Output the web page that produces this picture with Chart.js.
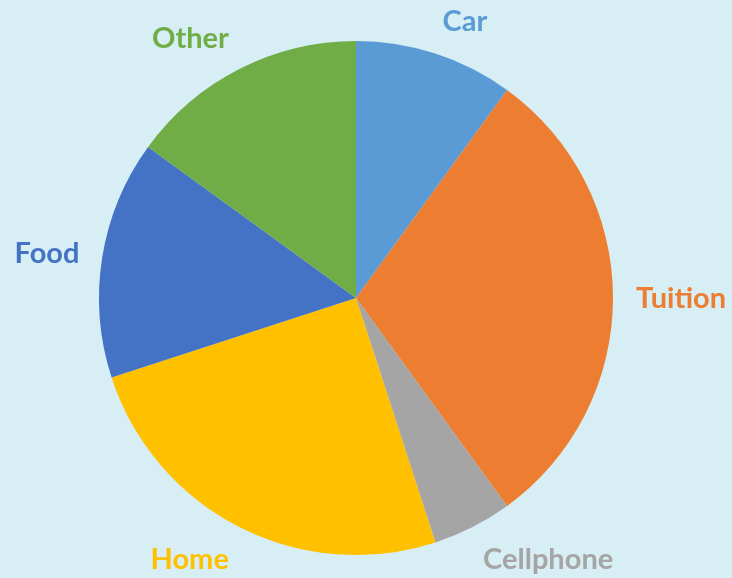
<!DOCTYPE html>
<html>
<head>
<meta charset="utf-8">
<script src="https://cdn.jsdelivr.net/npm/chart.js@4.4.0/dist/chart.umd.min.js"></script>
<style>
  html, body { margin: 0; padding: 0; background: #d6eef4; }
  #wrap { width: 732px; height: 578px; }
</style>
</head>
<body>
<div id="wrap"><canvas id="pie" width="732" height="578"></canvas></div>
<script>
// expense split, percent
const categories = ['Car', 'Tuition', 'Cellphone', 'Home', 'Food', 'Other'];
const shares = [10, 30, 5, 25, 15, 15];
const sliceColors = ['#5b9bd5', '#ed7d31', '#a5a5a5', '#ffc000', '#4472c4', '#70ad47'];

// labels outside the pie, coloured like their slice
const outsideLabels = {
    id: 'outsideLabels',
    afterDatasetsDraw(chart) {
        const ctx = chart.ctx;
        const meta = chart.getDatasetMeta(0);
        ctx.save();
        ctx.font = 'bold 29px Lato';
        ctx.textAlign = 'center';
        ctx.textBaseline = 'middle';
        meta.data.forEach((arc, i) => {
            const p = arc.getProps(['x', 'y', 'startAngle', 'endAngle', 'outerRadius'], true);
            const mid = (p.startAngle + p.endAngle) / 2;
            const ux = Math.cos(mid), uy = Math.sin(mid);
            const w = ctx.measureText(categories[i]).width;
            const h = 24;
            const r = p.outerRadius + 23;
            const sx = Math.abs(ux) < 0.05 ? 0 : Math.sign(ux);
            const x = p.x + ux * r + sx * w / 2;
            const y = p.y + uy * r + uy * h / 2 + 1;
            ctx.fillStyle = sliceColors[i];
            ctx.fillText(categories[i], x, y);
        });
        ctx.restore();
    }
};

new Chart(document.getElementById('pie').getContext('2d'), {
    type: 'pie',
    data: {
        labels: categories,
        datasets: [{
            data: shares,
            backgroundColor: sliceColors,
            borderWidth: 0
        }]
    },
    options: {
        responsive: false,
        animation: false,
        layout: { padding: { left: 99, right: 119, top: 41, bottom: 23 } },
        plugins: {
            legend: { display: false },
            tooltip: { enabled: false }
        }
    },
    plugins: [outsideLabels]
});
</script>
</body>
</html>
